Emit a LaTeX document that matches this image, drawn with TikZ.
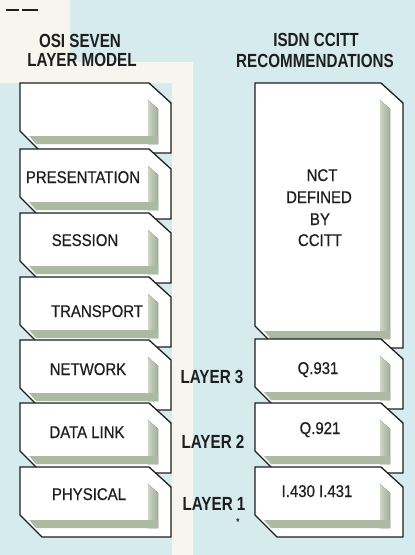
\documentclass[tikz,border=0pt]{standalone}
\usepackage{fontspec}
\setmainfont{Liberation Sans}
\newfontfamily\condb{Liberation Sans}[FakeStretch=0.8]
\newfontfamily\condr{Liberation Sans}[FakeStretch=0.88,FakeBold=0.5]
\definecolor{bgblue}{RGB}{214,235,238}
\definecolor{bgcream}{RGB}{247,246,238}
\definecolor{shadowc}{RGB}{158,174,146}
\definecolor{shadowl}{RGB}{205,214,196}
\definecolor{inkc}{RGB}{30,30,30}
\tikzset{
  cardline/.style={draw=inkc, line width=1.3pt, line join=miter},
  titletext/.style={font=\condb\bfseries\fontsize{19}{19}\selectfont, text=inkc, anchor=base, inner sep=0pt},
  layertext/.style={font=\condb\bfseries\fontsize{19}{19}\selectfont, text=inkc, anchor=base, inner sep=0pt},
  cardtext/.style={font=\condr\fontsize{17}{17}\selectfont, text=inkc, anchor=base, inner sep=0pt}
}
% card: left, top, right, bottom (image pixel coordinates)
\newcommand\mycard[4]{%
  \fill[white] (#1,#2) -- ({#3-22},#2) -- (#3,{#2+20}) -- (#3,#4) -- ({#1+22},#4) -- (#1,{#4-22}) -- cycle;
  \fill[left color=shadowl, right color=shadowc] ({#3-23},{#2+17}) -- ({#3-13},{#2+26}) -- ({#3-13},{#4-9}) -- ({#3-23},{#4-9}) -- cycle;
  \fill[shadowc!85!white] ({#3-23},{#4-17}) -- ({#3-13},{#4-17}) -- ({#3-13},{#4-9}) -- ({#1+16},{#4-9}) -- ({#1+9},{#4-17}) -- cycle;
  \draw[cardline] (#1,#2) -- ({#3-22},#2) -- (#3,{#2+20}) -- (#3,#4) -- ({#1+22},#4) -- (#1,{#4-22}) -- cycle;
}
\begin{document}
\begin{tikzpicture}[x=1pt,y=-1pt]
\useasboundingbox (0,0) rectangle (415,555);
% backgrounds
\fill[bgblue] (0,0) rectangle (415,555);
\fill[bgcream] (0,0) -- (70,0) -- (70,62) -- (193,62) -- (193,555) -- (172,555) -- (172,83) -- (0,83) -- cycle;
% small marks at top left
\draw[inkc, line width=1.3pt] (6,10) -- (19,10);
\draw[inkc, line width=1.3pt] (22,10) -- (38,10);
% titles
\node[titletext] (t1a) at (80,47) {OSI SEVEN};
\node[titletext] (t1b) at (82,66) {LAYER MODEL};
\node[titletext] (t2a) at (316,46) {ISDN CCITT};
\node[titletext] (t2b) at (315,67) {RECOMMENDATIONS};
% left column (OSI)
\mycard{20}{83}{171}{153}
\mycard{20}{149}{171}{219}
\mycard{20}{213}{171}{283}
\mycard{20}{277}{171}{347}
\mycard{20}{340}{171}{410}
\mycard{20}{403}{171}{473}
\mycard{20}{467}{171}{537}
\node[cardtext] (pres) at (83,183) {PRESENTATION};
\node[cardtext] (sess) at (85,246) {SESSION};
\node[cardtext] (trans) at (97,317) {TRANSPORT};
\node[cardtext] (netw) at (88,375) {NETWORK};
\node[cardtext] (dlink) at (87,438) {DATA LINK};
\node[cardtext] (phys) at (89,500) {PHYSICAL};
% right column (ISDN)
\mycard{255}{83}{403}{348}
\mycard{255}{339}{403}{409}
\mycard{255}{403}{403}{473}
\mycard{255}{467}{403}{537}
\node[cardtext] (nct1) at (322,181) {NCT};
\node[cardtext] (nct2) at (319,203) {DEFINED};
\node[cardtext] (nct3) at (320,225) {BY};
\node[cardtext] (nct4) at (320,246) {CCITT};
\node[cardtext] (q931) at (318,374) {Q.931};
\node[cardtext] (q921) at (320,434) {Q.921};
\node[cardtext] (i430) at (317,497) {I.430 I.431};
% layer labels
\node[layertext] (l3) at (212,383) {LAYER 3};
\node[layertext] (l2) at (213,448) {LAYER 2};
\node[layertext] (l1) at (214,510) {LAYER 1};
\node[font=\condb\bfseries\fontsize{10}{10}\selectfont, text=inkc, inner sep=0pt] (ast) at (238,522) {*};
\end{tikzpicture}
\end{document}
